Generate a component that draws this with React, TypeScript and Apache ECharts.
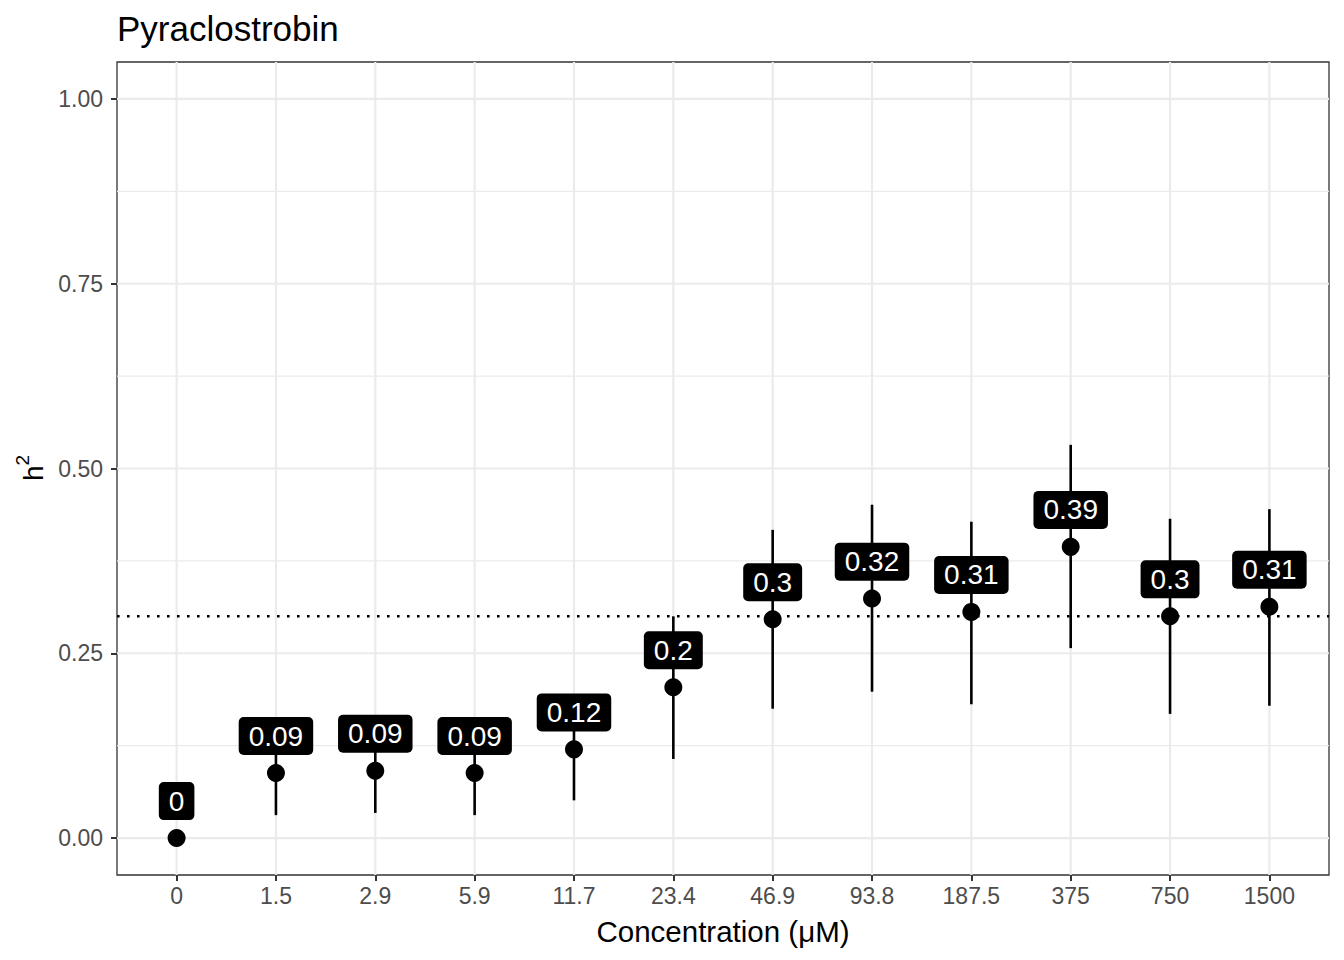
import React, { useEffect, useRef } from "react";
import * as echarts from "echarts";

const categories = ["0", "1.5", "2.9", "5.9", "11.7", "23.4", "46.9", "93.8", "187.5", "375", "750", "1500"];
const h2 = [0, 0.088, 0.091, 0.088, 0.12, 0.204, 0.296, 0.324, 0.306, 0.394, 0.3, 0.313];
const lower = [0, 0.031, 0.034, 0.031, 0.051, 0.107, 0.175, 0.198, 0.181, 0.257, 0.168, 0.179];
const upper = [0, 0.145, 0.147, 0.145, 0.19, 0.3, 0.417, 0.451, 0.428, 0.532, 0.432, 0.445];
const labels = ["0", "0.09", "0.09", "0.09", "0.12", "0.2", "0.3", "0.32", "0.31", "0.39", "0.3", "0.31"];
const yTicks = [0, 0.25, 0.5, 0.75, 1];
const yMinor = [0.125, 0.375, 0.625, 0.875];
const threshold = 0.3;
const labelNudge = 0.05;

const FONT = '"Liberation Sans", Arial, Helvetica, sans-serif';

export default function App() {
  const ref = useRef<HTMLDivElement>(null);

  useEffect(() => {
    if (!ref.current) return;
    const chart = echarts.init(ref.current, undefined, { renderer: "svg" });
    const idx = categories.map((_, i) => i);

    const vLine = (width: number) => (params: any, api: any) => {
      const cs = params.coordSys;
      const x = api.coord([api.value(0), 0])[0];
      return {
        type: "line",
        shape: { x1: x, y1: cs.y, x2: x, y2: cs.y + cs.height },
        style: { stroke: "#EBEBEB", lineWidth: width },
        silent: true,
      };
    };
    const hLine = (width: number, color: string, dash?: number[]) => (params: any, api: any) => {
      const cs = params.coordSys;
      const y = api.coord([0, api.value(1)])[1];
      return {
        type: "line",
        shape: { x1: cs.x, y1: y, x2: cs.x + cs.width, y2: y },
        style: { stroke: color, lineWidth: width, lineDash: dash },
        silent: true,
      };
    };

    const option: any = {
      animation: false,
      backgroundColor: "#ffffff",
      grid: {
        left: 117,
        right: 15,
        top: 62,
        bottom: 85,
        show: true,
        borderColor: "#333333",
        borderWidth: 1.3,
        backgroundColor: "#ffffff",
      },
      xAxis: {
        type: "value",
        min: -0.6,
        max: 11.6,
        splitLine: { show: false },
        axisLine: { show: false, onZero: false },
        axisTick: {
          show: true,
          inside: false,
          customValues: idx,
          length: 6,
          lineStyle: { color: "#333333", width: 2 },
        },
        axisLabel: {
          customValues: idx,
          formatter: (v: number) => categories[Math.round(v)] ?? "",
          color: "#4D4D4D",
          fontSize: 23,
          fontFamily: FONT,
          margin: 9,
        },
      },
      yAxis: {
        type: "value",
        min: -0.05,
        max: 1.05,
        splitLine: { show: false },
        axisLine: { show: false, onZero: false },
        axisTick: {
          show: true,
          inside: false,
          customValues: yTicks,
          length: 6,
          lineStyle: { color: "#333333", width: 2 },
        },
        axisLabel: {
          customValues: yTicks,
          formatter: (v: number) => v.toFixed(2),
          color: "#4D4D4D",
          fontSize: 23,
          fontFamily: FONT,
          margin: 14,
        },
      },
      graphic: [
        {
          type: "text",
          left: 117,
          top: 11,
          style: { text: "Pyraclostrobin", font: `35px ${FONT}`, fill: "#000000" },
        },
        {
          type: "text",
          x: 723,
          y: 931,
          style: {
            text: "Concentration (μM)",
            font: `29.5px ${FONT}`,
            fill: "#000000",
            align: "center",
            verticalAlign: "middle",
          },
        },
        {
          type: "text",
          x: 30,
          y: 468,
          rotation: Math.PI / 2,
          style: {
            text: "{a|h}{b|2}",
            align: "center",
            verticalAlign: "middle",
            rich: {
              a: { fontSize: 28, fontFamily: FONT, fill: "#000000", lineHeight: 34, verticalAlign: "bottom" },
              b: { fontSize: 19, fontFamily: FONT, fill: "#000000", lineHeight: 34, verticalAlign: "top" },
            },
          },
        },
      ],
      series: [
        {
          type: "custom",
          z: 1,
          silent: true,
          renderItem: vLine(2.2),
          data: idx.map((i) => [i, 0]),
        },
        {
          type: "custom",
          z: 1,
          silent: true,
          renderItem: hLine(2.2, "#EBEBEB"),
          data: yTicks.map((v) => [0, v]),
        },
        {
          type: "custom",
          z: 1,
          silent: true,
          renderItem: hLine(1.1, "#EBEBEB"),
          data: yMinor.map((v) => [0, v]),
        },
        {
          type: "custom",
          z: 2,
          silent: true,
          renderItem: hLine(2.6, "#000000", [2.6, 7.4]),
          data: [[0, threshold]],
        },
        {
          type: "custom",
          z: 3,
          silent: true,
          renderItem: (params: any, api: any) => {
            const lo = api.value(1);
            const hi = api.value(2);
            if (lo === hi) return null;
            const p1 = api.coord([api.value(0), lo]);
            const p2 = api.coord([api.value(0), hi]);
            return {
              type: "line",
              shape: { x1: p1[0], y1: p1[1], x2: p2[0], y2: p2[1] },
              style: { stroke: "#000000", lineWidth: 2.6 },
            };
          },
          data: idx.map((i) => [i, lower[i], upper[i]]),
        },
        {
          type: "scatter",
          z: 4,
          silent: true,
          symbol: "circle",
          symbolSize: 18,
          itemStyle: { color: "#000000", opacity: 1 },
          data: idx.map((i) => [i, h2[i]]),
        },
        {
          type: "custom",
          z: 5,
          silent: true,
          renderItem: (params: any, api: any) => {
            const p = api.coord([api.value(0), api.value(1) + labelNudge]);
            return {
              type: "text",
              x: p[0],
              y: p[1],
              style: {
                text: labels[params.dataIndex],
                fill: "#ffffff",
                font: `28px ${FONT}`,
                lineHeight: 28,
                align: "center",
                verticalAlign: "middle",
                backgroundColor: "#000000",
                padding: [5, 10, 5, 10],
                borderRadius: 5,
              },
            };
          },
          data: idx.map((i) => [i, h2[i]]),
        },
      ],
    };

    chart.setOption(option);
    return () => chart.dispose();
  }, []);

  return (
    <div
      ref={ref}
      style={{ position: "fixed", left: 0, top: 0, width: 1344, height: 960, background: "#fff" }}
    />
  );
}
